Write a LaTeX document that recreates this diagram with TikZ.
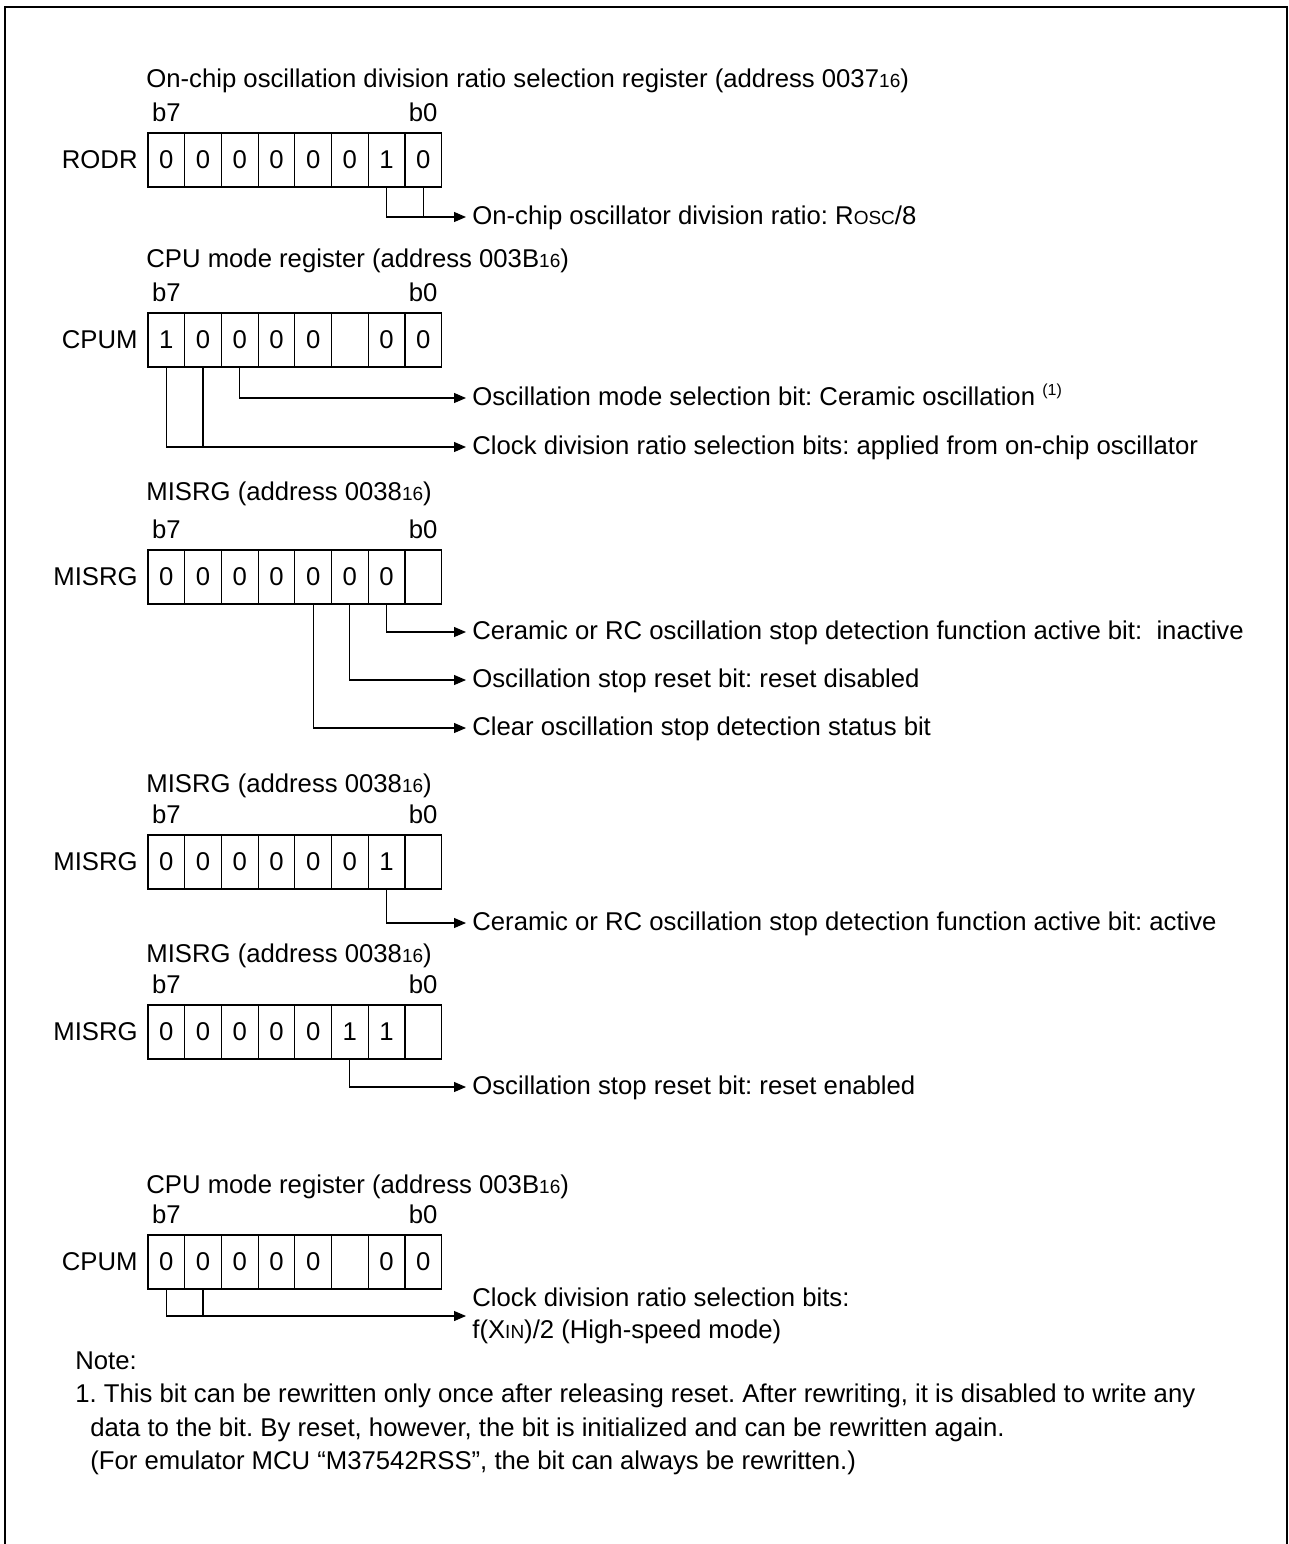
\documentclass[tikz,border=0pt]{standalone}
\usepackage{fontspec}
\setmainfont{Liberation Sans}
\usetikzlibrary{arrows.meta,positioning}
\newcommand{\sml}[1]{{\fontsize{9.5pt}{10pt}\selectfont #1}}
\newcommand{\noteref}[1]{\raisebox{4.8pt}{\fontsize{8pt}{8pt}\selectfont #1}}

\begin{document}
\frenchspacing
\begin{tikzpicture}[x=0.5pt,y=0.5pt,yscale=-1,xscale=1,font=\fontsize{12.85pt}{16pt}\selectfont,
  bitcell/.style={draw, line width=0.6pt, anchor=north west, minimum width=18.35pt, minimum height=27pt, inner sep=0pt, outer sep=0pt},
  regname/.style={inner sep=0pt},
  bitno/.style={anchor=base, inner sep=0pt},
  regtitle/.style={anchor=base west, inner sep=0pt},
  desc/.style={anchor=west, inner xsep=3pt, inner ysep=0pt, text height=9pt, text depth=2pt},
  desctwo/.style={anchor=west, inner xsep=3pt, inner ysep=0pt, align=left},
  notetxt/.style={anchor=base west, inner sep=0pt},
  conn/.style={line width=0.6pt, -{Triangle[length=6pt,width=5pt]}},
  tie/.style={line width=0.6pt}]
\useasboundingbox (0,0) rectangle (1289,1544);

%Shape: Frame (open at the bottom)
\draw [line width=1pt] (4.5,1544) -- (4.5,7) -- (1287,7) -- (1287,1544);

%Register: RODR
\node[regtitle] (rodr-title) at (146,87) {On-chip oscillation division ratio selection register (address 0037\sml{16})};
\foreach \v [count=\i from 0] in {0,0,0,0,0,0,1,0} {
  \pgfmathtruncatemacro{\b}{7-\i}
  \node[bitcell] (rodr-b\b) at ({148+36.7*\i},133) {\v};
}
\path (rodr-b7.north) ++(0,-12) node[bitno] (rodr-hi) {b7};
\path (rodr-b0.north) ++(0,-12) node[bitno] (rodr-lo) {b0};
\node[regname, left=5pt of rodr-b7] (rodr) {RODR};
% Text Node
\node[desc] (rodr-d0) at (466,217) {On-chip oscillator division ratio: R\sml{OSC}/8};
\draw[conn] (rodr-b1.south) |- (rodr-d0.west);
\draw[tie] (rodr-b0.south) -- (rodr-b0.south |- rodr-d0.west);

%Register: CPUM
\node[regtitle] (cpum-title) at (146,267) {CPU mode register (address 003B\sml{16})};
\foreach \v [count=\i from 0] in {1,0,0,0,0,{},0,0} {
  \pgfmathtruncatemacro{\b}{7-\i}
  \node[bitcell] (cpum-b\b) at ({148+36.7*\i},313) {\v};
}
\path (cpum-b7.north) ++(0,-12) node[bitno] (cpum-hi) {b7};
\path (cpum-b0.north) ++(0,-12) node[bitno] (cpum-lo) {b0};
\node[regname, left=5pt of cpum-b7] (cpum) {CPUM};
% Text Node
\node[desc] (cpum-d0) at (466,398) {Oscillation mode selection bit: Ceramic oscillation \noteref{(1)}};
\node[desc] (cpum-d1) at (466,447) {Clock division ratio selection bits: applied from on-chip oscillator};
\draw[conn] (cpum-b5.south) |- (cpum-d0.west);
\draw[conn] (cpum-b7.south) |- (cpum-d1.west);
\draw[tie] (cpum-b6.south) -- (cpum-b6.south |- cpum-d1.west);

%Register: MISRG (first write)
\node[regtitle] (misa-title) at (146,500) {MISRG (address 0038\sml{16})};
\foreach \v [count=\i from 0] in {0,0,0,0,0,0,0,{}} {
  \pgfmathtruncatemacro{\b}{7-\i}
  \node[bitcell] (misa-b\b) at ({148+36.7*\i},550) {\v};
}
\path (misa-b7.north) ++(0,-12) node[bitno] (misa-hi) {b7};
\path (misa-b0.north) ++(0,-12) node[bitno] (misa-lo) {b0};
\node[regname, left=5pt of misa-b7] (misa) {MISRG};
% Text Node
\node[desc] (misa-d0) at (466,632) {Ceramic or RC oscillation stop detection function active bit:\ \ inactive};
\node[desc] (misa-d1) at (466,680) {Oscillation stop reset bit: reset disabled};
\node[desc] (misa-d2) at (466,728) {Clear oscillation stop detection status bit};
\draw[conn] (misa-b1.south) |- (misa-d0.west);
\draw[conn] (misa-b2.south) |- (misa-d1.west);
\draw[conn] (misa-b3.south) |- (misa-d2.west);

%Register: MISRG (second write)
\node[regtitle] (misb-title) at (146,792) {MISRG (address 0038\sml{16})};
\foreach \v [count=\i from 0] in {0,0,0,0,0,0,1,{}} {
  \pgfmathtruncatemacro{\b}{7-\i}
  \node[bitcell] (misb-b\b) at ({148+36.7*\i},835) {\v};
}
\path (misb-b7.north) ++(0,-12) node[bitno] (misb-hi) {b7};
\path (misb-b0.north) ++(0,-12) node[bitno] (misb-lo) {b0};
\node[regname, left=5pt of misb-b7] (misb) {MISRG};
% Text Node
\node[desc] (misb-d0) at (466,923) {Ceramic or RC oscillation stop detection function active bit: active};
\draw[conn] (misb-b1.south) |- (misb-d0.west);

%Register: MISRG (third write)
\node[regtitle] (misc-title) at (146,962) {MISRG (address 0038\sml{16})};
\foreach \v [count=\i from 0] in {0,0,0,0,0,1,1,{}} {
  \pgfmathtruncatemacro{\b}{7-\i}
  \node[bitcell] (misc-b\b) at ({148+36.7*\i},1005) {\v};
}
\path (misc-b7.north) ++(0,-12) node[bitno] (misc-hi) {b7};
\path (misc-b0.north) ++(0,-12) node[bitno] (misc-lo) {b0};
\node[regname, left=5pt of misc-b7] (misc) {MISRG};
% Text Node
\node[desc] (misc-d0) at (466,1087) {Oscillation stop reset bit: reset enabled};
\draw[conn] (misc-b2.south) |- (misc-d0.west);

%Register: CPUM (final)
\node[regtitle] (cpuf-title) at (146,1193) {CPU mode register (address 003B\sml{16})};
\foreach \v [count=\i from 0] in {0,0,0,0,0,{},0,0} {
  \pgfmathtruncatemacro{\b}{7-\i}
  \node[bitcell] (cpuf-b\b) at ({148+36.7*\i},1235) {\v};
}
\path (cpuf-b7.north) ++(0,-12) node[bitno] (cpuf-hi) {b7};
\path (cpuf-b0.north) ++(0,-12) node[bitno] (cpuf-lo) {b0};
\node[regname, left=5pt of cpuf-b7] (cpuf) {CPUM};
% Text Node
\node[desctwo] (cpuf-d0) at (466,1316) {Clock division ratio selection bits:\\f(X\sml{IN})/2 (High-speed mode)};
\draw[conn] (cpuf-b7.south) |- (cpuf-d0.west);
\draw[tie] (cpuf-b6.south) -- (cpuf-b6.south |- cpuf-d0.west);

%Note
\node[notetxt] (note) at (75,1369) {Note:};
\node[notetxt] (note-a) at (75,1402) {1. This bit can be rewritten only once after releasing reset. After rewriting, it is disabled to write any};
\node[notetxt] (note-b) at (90,1436) {data to the bit. By reset, however, the bit is initialized and can be rewritten again.};
\node[notetxt] (note-c) at (90,1469) {(For emulator MCU “M37542RSS”, the bit can always be rewritten.)};

\end{tikzpicture}
\end{document}
